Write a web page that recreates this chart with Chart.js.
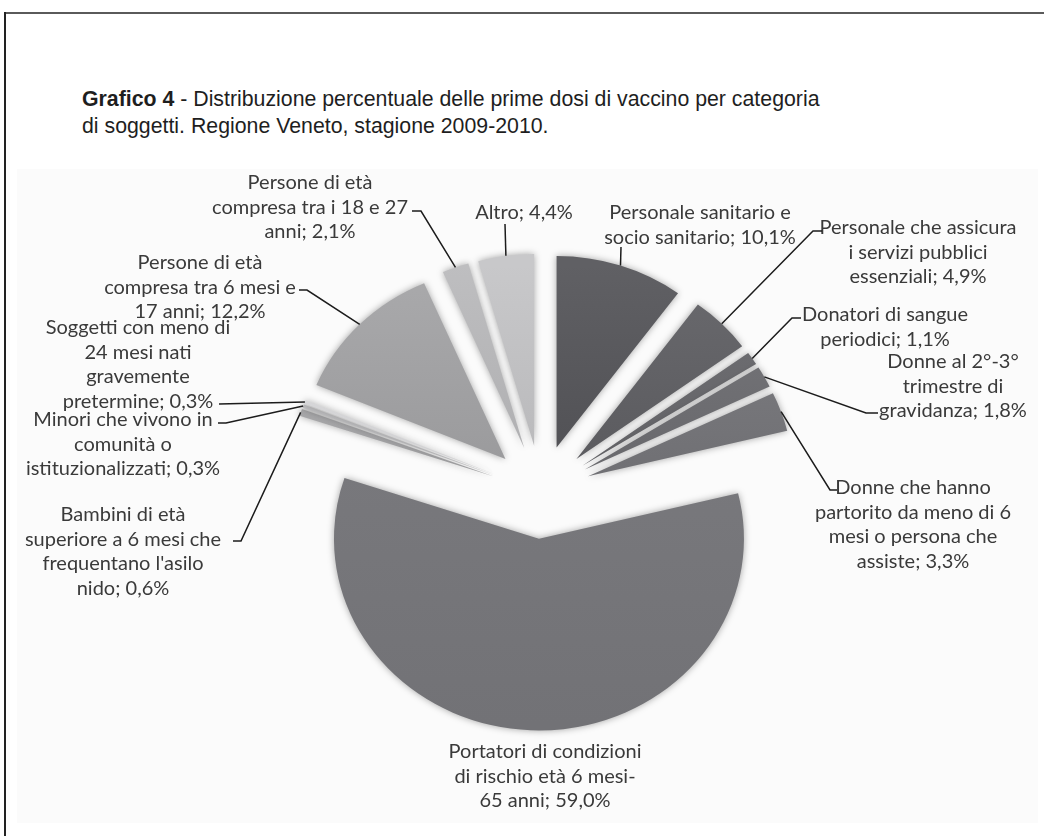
<!DOCTYPE html>
<html lang="it">
<head>
  <meta charset="UTF-8">
  <title>Grafico 4 - Prime dosi di vaccino per categoria</title>
  <style>
    body { margin: 0; background: #fff; }
    .page { position: relative; width: 1044px; height: 836px; overflow: hidden; }
    .frame-top { position: absolute; left: 4px; top: 12px; right: 0; height: 2px; background: #5a5a5a; }
    .frame-left { position: absolute; left: 4px; top: 12px; bottom: 0; width: 2px; background: #222; }
    .panel { position: absolute; left: 17px; top: 169px; width: 1021px; height: 654px; background: #fbfbfb; }
    .title { position: absolute; left: 82px; top: 86px; white-space: nowrap;
             font: 21.3px/27px "Liberation Sans", Arial, sans-serif; color: #1e1e1e; }
    #chart { position: absolute; left: 0; top: 0; }
  </style>
</head>
<body>
  <div class="page">
    <div class="frame-top"></div>
    <div class="frame-left"></div>
    <div class="panel"></div>
    <div class="title"><b>Grafico 4</b> - Distribuzione percentuale delle prime dosi di vaccino per categoria<br>di soggetti. Regione Veneto, stagione 2009-2010.</div>
    <canvas id="chart" width="1044" height="836"></canvas>
  </div>

  <script src="https://cdn.jsdelivr.net/npm/chart.js"></script>
  <script>
    // categorie in senso orario a partire da ore 12 (\n = a capo nell'etichetta)
    const categories = [
      'Personale sanitario e\nsocio sanitario',
      'Personale che assicura\ni servizi pubblici\nessenziali',
      'Donatori di sangue\nperiodici',
      'Donne al 2°-3°\ntrimestre di\ngravidanza',
      'Donne che hanno\npartorito da meno di 6\nmesi o persona che\nassiste',
      'Portatori di condizioni\ndi rischio età 6 mesi-\n65 anni',
      'Bambini di età\nsuperiore a 6 mesi che\nfrequentano l\'asilo\nnido',
      'Minori che vivono in\ncomunità o\nistituzionalizzati',
      'Soggetti con meno di\n24 mesi nati\ngravemente\npretermine',
      'Persone di età\ncompresa tra 6 mesi e\n17 anni',
      'Persone di età\ncompresa tra i 18 e 27\nanni',
      'Altro'
    ];
    const values = [10.1, 4.9, 1.1, 1.8, 3.3, 59.0, 0.6, 0.3, 0.3, 12.2, 2.1, 4.4];
    const colors = ['#505054', '#5a5a5e', '#626266', '#68686c', '#707074', '#78787c',
                    '#a2a2a4', '#bababc', '#d0d0d2', '#9a9a9c', '#aeaeb0', '#b8b8ba'];

    // posizione del testo (centro del primo rigo) e tratto di richiamo dal lato del testo
    const labelPos = [
      { x: 700, y: 213, leader: [[621, 247]] },
      { x: 918, y: 228, leader: [[822, 231], [813, 231]] },
      { x: 885, y: 315, leader: [[801, 318], [792, 318]] },
      { x: 953, y: 362, leader: [[878, 413], [866, 413]] },
      { x: 913, y: 488, leader: [[837, 490], [830, 490]] },
      { x: 545, y: 752 },
      { x: 123, y: 515, leader: [[233, 541], [241, 541]] },
      { x: 123, y: 420, leader: [[218, 423], [226, 423]] },
      { x: 138, y: 328, leader: [[219, 404]] },
      { x: 200, y: 263, leader: [[299, 290], [307, 290]] },
      { x: 310, y: 183, leader: [[412, 211], [421, 211]] },
      { x: 524, y: 213, leader: [[505, 224]] }
    ];

    const pieRadius = 205;   // raggio orizzontale della torta
    const squash = 0.935;    // schiacciamento verticale
    const explode = 50;      // distacco di ogni fetta dal centro, px
    const lineGap = 24.5;

    const fmt = v => v.toFixed(1).replace('.', ',') + '%';

    function shade(hex, d) {
      const n = parseInt(hex.slice(1), 16);
      const c = [n >> 16, (n >> 8) & 255, n & 255].map(v => Math.max(0, Math.min(255, v + d)));
      return 'rgb(' + c.join(',') + ')';
    }

    function pieCenter(chart) {
      const a = chart.chartArea;
      return { cx: (a.left + a.right) / 2, cy: (a.top + a.bottom) / 2 };
    }

    const pieLook = {
      id: 'pieLook',
      beforeDatasetsDraw(chart) {
        const ctx = chart.ctx;
        const { cx, cy } = pieCenter(chart);
        // fette esplose: ogni arco spostato lungo la propria bisettrice
        chart.getDatasetMeta(0).data.forEach(arc => {
          const mid = (arc.startAngle + arc.endAngle) / 2;
          arc.x = cx + Math.cos(mid) * explode;
          arc.y = cy + Math.sin(mid) * explode;
        });
        ctx.save();
        ctx.translate(cx, cy);
        ctx.scale(1, squash);
        ctx.translate(-cx, -cy);
        ctx.shadowColor = 'rgba(0,0,0,0.35)';
        ctx.shadowBlur = 7;
      },
      afterDatasetsDraw(chart) {
        chart.ctx.restore();
      },
      afterDraw(chart) {
        const ctx = chart.ctx;
        const { cx, cy } = pieCenter(chart);
        const arcs = chart.getDatasetMeta(0).data;
        ctx.save();
        ctx.font = '20px Lato';
        ctx.fillStyle = '#3a3a3a';
        ctx.textAlign = 'center';
        ctx.textBaseline = 'middle';
        ctx.strokeStyle = '#1c1c1c';
        ctx.lineWidth = 1.5;
        arcs.forEach((arc, i) => {
          const lab = labelPos[i];
          const lines = (categories[i] + '; ' + fmt(values[i])).split('\n');
          lines.forEach((t, j) => ctx.fillText(t, lab.x, lab.y + j * lineGap));
          if (!lab.leader) return;
          // punto medio del bordo esterno della fetta
          const mid = (arc.startAngle + arc.endAngle) / 2;
          const r = pieRadius + explode;
          const ex = cx + Math.cos(mid) * r;
          const ey = cy + Math.sin(mid) * r * squash;
          ctx.beginPath();
          ctx.moveTo(lab.leader[0][0], lab.leader[0][1]);
          lab.leader.slice(1).forEach(p => ctx.lineTo(p[0], p[1]));
          ctx.lineTo(ex, ey);
          ctx.stroke();
        });
        ctx.restore();
      }
    };

    document.fonts.load('20px Lato').then(() => {
      new Chart(document.getElementById('chart'), {
        type: 'pie',
        data: {
          labels: categories,
          datasets: [{
            data: values,
            backgroundColor: c => {
              const g = c.chart.ctx.createLinearGradient(0, 250, 0, 740);
              const base = colors[c.dataIndex];
              g.addColorStop(0, shade(base, 16));
              g.addColorStop(0.45, base);
              g.addColorStop(1, shade(base, -6));
              return g;
            },
            borderWidth: 0
          }]
        },
        options: {
          responsive: false,
          animation: false,
          events: [],
          radius: pieRadius,
          layout: { padding: { left: 238, right: 200, top: 346, bottom: 198 } },
          plugins: {
            legend: { display: false },
            tooltip: { enabled: false }
          }
        },
        plugins: [pieLook]
      });
    });
  </script>
</body>
</html>
